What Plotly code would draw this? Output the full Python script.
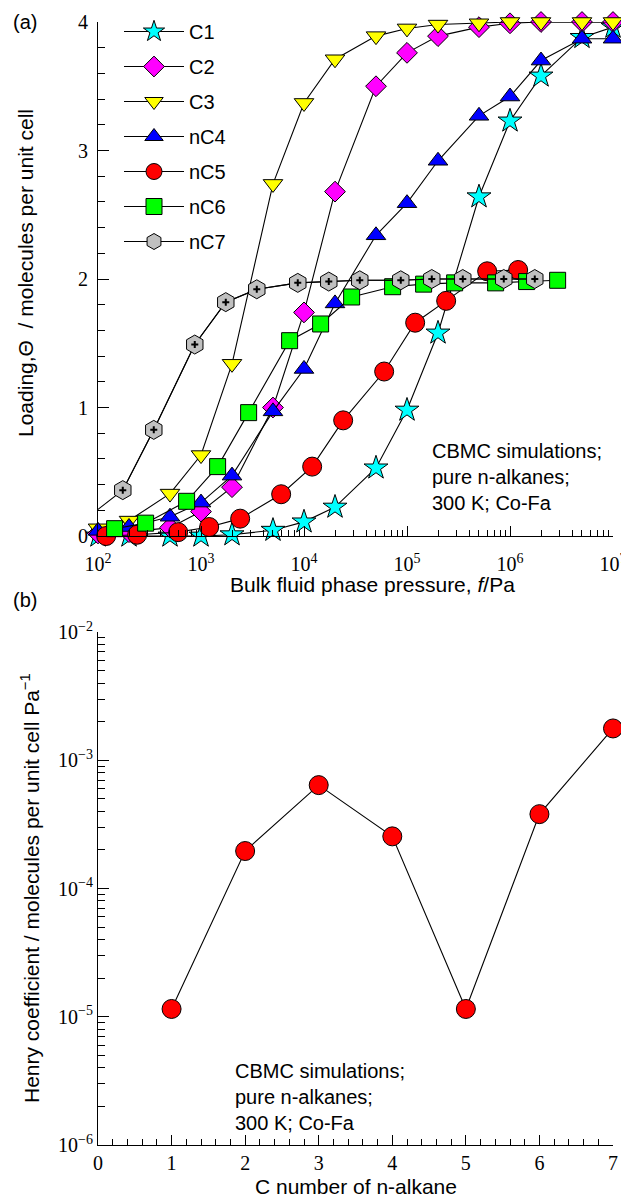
import plotly.graph_objects as go

# ---------------- Panel (a): loading vs bulk fluid phase pressure ----------------
p_c1_c4 = [1e2, 2e2, 5e2, 1e3, 2e3, 5e3, 1e4, 2e4, 5e4, 1e5, 2e5, 5e5, 1e6, 2e6, 5e6, 1e7]
load_c1 = [0.0, 0.0, 0.0, 0.0, 0.01, 0.045, 0.11, 0.225, 0.53, 0.98, 1.58, 2.64, 3.23, 3.58, 3.88, 3.96]
load_c2 = [0.02, 0.03, 0.065, 0.19, 0.38, 1.0, 1.74, 2.68, 3.50, 3.76, 3.89, 3.96, 3.99, 4.0, 4.0, 4.0]
load_c3 = [0.06, 0.12, 0.33, 0.63, 1.34, 2.74, 3.37, 3.71, 3.89, 3.95, 3.98, 3.99, 4.0, 4.0, 4.0, 4.0]
load_nc4 = [0.04, 0.07, 0.15, 0.26, 0.47, 0.97, 1.30, 1.81, 2.34, 2.59, 2.92, 3.27, 3.42, 3.70, 3.87, 3.87]

p_nc5 = [120, 240, 600, 1200, 2400, 6000, 12000, 24000, 60000, 1.2e5, 2.4e5, 6e5, 1.2e6]
load_nc5 = [0.0, 0.01, 0.03, 0.07, 0.135, 0.325, 0.54, 0.90, 1.28, 1.66, 1.83, 2.06, 2.07]

p_nc6 = [145, 290, 725, 1450, 2900, 7250, 14500, 29000, 72500, 1.45e5, 2.9e5, 7.25e5, 1.45e6, 2.9e6]
load_nc6 = [0.057, 0.10, 0.27, 0.54, 0.96, 1.52, 1.65, 1.86, 1.94, 1.96, 1.97, 1.97, 1.98, 1.99]

p_nc7 = [87, 174, 348, 870, 1740, 3480, 8700, 17400, 34800, 87000, 1.74e5, 3.48e5, 8.7e5, 1.74e6]
load_nc7 = [0.17, 0.357, 0.826, 1.49, 1.82, 1.92, 1.97, 1.98, 1.99, 1.99, 2.0, 2.0, 2.0, 2.0]

series_names = ["C1", "C2", "C3", "nC4", "nC5", "nC6", "nC7"]
series_x = [p_c1_c4, p_c1_c4, p_c1_c4, p_c1_c4, p_nc5, p_nc6, p_nc7]
series_y = [load_c1, load_c2, load_c3, load_nc4, load_nc5, load_nc6, load_nc7]
series_symbols = ["star", "diamond", "triangle-down", "triangle-up", "circle", "square", "hexagon"]
series_colors = ["#00FFFF", "#FF00FF", "#FFFF00", "#0000FF", "#FF0000", "#00FF00", "#C0C0C0"]
series_sizes = [18, 16, 17, 17, 19, 16, 19]

p_min, p_max = 1e2, 1e7

# ---------------- Panel (b): Henry coefficients ----------------
c_number = [1, 2, 3, 4, 5, 6, 7]
henry = [1.15e-5, 1.96e-4, 6.4e-4, 2.55e-4, 1.15e-5, 3.8e-4, 1.77e-3]

# ---------------- tick labels ----------------
x_dec = [2, 3, 4, 5, 6, 7]
x_tickvals = [10 ** d for d in x_dec]
x_ticktext = ["10<sup>%d</sup>" % d for d in x_dec]
y2_dec = [-6, -5, -4, -3, -2]
y2_tickvals = [10 ** d for d in y2_dec]
y2_ticktext = ["10<sup>\u2212%d</sup>" % (-d) for d in y2_dec]

x_minor = [m * 10 ** d for d in range(2, 7) for m in range(2, 10)]
y2_minor = [m * 10 ** d for d in range(-6, -2) for m in range(2, 10)]

# page body has an 8 px margin: size the figure so it fits the 629x1197 window
OFF = 8
W, H = 629 - OFF, 1197 - OFF
SANS = "Liberation Sans, Arial, sans-serif"
SERIF = "Liberation Serif, Times New Roman, serif"


def px(x):
    return (x - OFF) / W


def py(y):
    return 1 - (y - OFF) / H


fig = go.Figure()

for name, xs, ys, sym, col, sz in zip(series_names, series_x, series_y,
                                       series_symbols, series_colors, series_sizes):
    xin = [x for x in xs if p_min <= x <= p_max]
    yin = [y for x, y in zip(xs, ys) if p_min <= x <= p_max]
    if len(xin) != len(xs):
        # full line (clipped to the axes) for points outside the pressure range
        fig.add_trace(go.Scatter(x=xs, y=ys, mode="lines", xaxis="x", yaxis="y",
                                 line=dict(color="black", width=1.1),
                                 showlegend=False, legendgroup=name, hoverinfo="skip"))
    fig.add_trace(go.Scatter(
        x=xin, y=yin, name=name, mode="lines+markers", xaxis="x", yaxis="y",
        legendgroup=name, cliponaxis=False,
        line=dict(color="black", width=1.1),
        marker=dict(symbol=sym, size=sz, color=col, line=dict(color="black", width=1)),
    ))
    if name == "nC7":
        fig.add_trace(go.Scatter(
            x=xin, y=yin, mode="markers", xaxis="x", yaxis="y", showlegend=False,
            legendgroup=name, cliponaxis=False, hoverinfo="skip",
            marker=dict(symbol="cross-thin", size=5, line=dict(color="black", width=2)),
        ))

fig.add_trace(go.Scatter(
    x=c_number, y=henry, mode="lines+markers", xaxis="x2", yaxis="y2",
    showlegend=False, cliponaxis=False,
    line=dict(color="black", width=1.1),
    marker=dict(symbol="circle", size=19, color="#FF0000", line=dict(color="black", width=1)),
))

xdom = [px(98), px(613)]
ydom_a = [py(536), py(22)]
ydom_b = [py(1145), py(632)]

axis_common = dict(showline=True, linecolor="black", linewidth=1, ticks="inside",
                   tickcolor="black", tickwidth=1, showgrid=False, zeroline=False,
                   automargin=False,
                   tickfont=dict(family=SERIF, size=20, color="black"))

fig.update_layout(
    width=W, height=H, autosize=False,
    margin=dict(l=0, r=0, t=0, b=0, autoexpand=False),
    paper_bgcolor="white", plot_bgcolor="white",
    font=dict(family=SANS, size=20, color="black"),
    xaxis=dict(axis_common, type="log", range=[2, 7], domain=xdom, anchor="y",
               tickmode="array", tickvals=x_tickvals, ticktext=x_ticktext, ticklen=10,
               ticklabelstandoff=10,
               minor=dict(ticks="inside", ticklen=6, tickcolor="black", tickmode="array",
                          tickvals=x_minor, showgrid=False)),
    yaxis=dict(axis_common, range=[0, 4], domain=ydom_a, anchor="x",
               tickmode="array", tickvals=[0, 1, 2, 3, 4], ticklen=11,
               ticklabelstandoff=5,
               minor=dict(ticks="inside", ticklen=7, tickcolor="black", dtick=0.2, showgrid=False)),
    xaxis2=dict(axis_common, range=[0, 7], domain=xdom, anchor="y2",
                tickmode="linear", tick0=0, dtick=1, ticklen=10,
                minor=dict(ticks="inside", ticklen=6, tickcolor="black", dtick=0.2, showgrid=False)),
    yaxis2=dict(axis_common, type="log", range=[-6, -2], domain=ydom_b, anchor="x2",
                tickmode="array", tickvals=y2_tickvals, ticktext=y2_ticktext, ticklen=11,
                minor=dict(ticks="inside", ticklen=7, tickcolor="black", tickmode="array",
                           tickvals=y2_minor, showgrid=False)),
    legend=dict(x=px(119), y=py(12), xanchor="left", yanchor="top",
                bgcolor="rgba(0,0,0,0)", borderwidth=0, traceorder="grouped",
                tracegroupgap=6, itemwidth=60,
                font=dict(family=SANS, size=20, color="black")),
)

annotations = [
    dict(text="(a)", x=px(11), y=py(22), xanchor="left", yanchor="middle"),
    dict(text="(b)", x=px(11), y=py(600), xanchor="left", yanchor="middle"),
    dict(text="Bulk fluid phase pressure, <i>f</i>/Pa", x=px(372), y=py(584),
         xanchor="center", yanchor="middle", font=dict(size=21)),
    dict(text="Loading,\u0398  / molecules per unit cell", x=px(25), y=py(273),
         xanchor="center", yanchor="middle", textangle=-90, font=dict(size=21)),
    dict(text="CBMC simulations;<br>pure n-alkanes;<br>300 K; Co-Fa", x=px(430), y=py(438),
         xanchor="left", yanchor="top", align="left", font=dict(size=20)),
    dict(text="C number of n-alkane", x=px(356), y=py(1186),
         xanchor="center", yanchor="middle", font=dict(size=21)),
    dict(text="Henry coefficient / molecules per unit cell Pa<sup>\u22121</sup>", x=px(30),
         y=py(888), xanchor="center", yanchor="middle", textangle=-90, font=dict(size=21)),
    dict(text="CBMC simulations;<br>pure n-alkanes;<br>300 K; Co-Fa", x=px(233), y=py(1058),
         xanchor="left", yanchor="top", align="left", font=dict(size=20)),
]
for a in annotations:
    a.update(xref="paper", yref="paper", showarrow=False)
    a.setdefault("font", {})
    a["font"] = dict(dict(family=SANS, color="black", size=20), **a["font"])
fig.update_layout(annotations=annotations)

fig.write_html("out.html")
